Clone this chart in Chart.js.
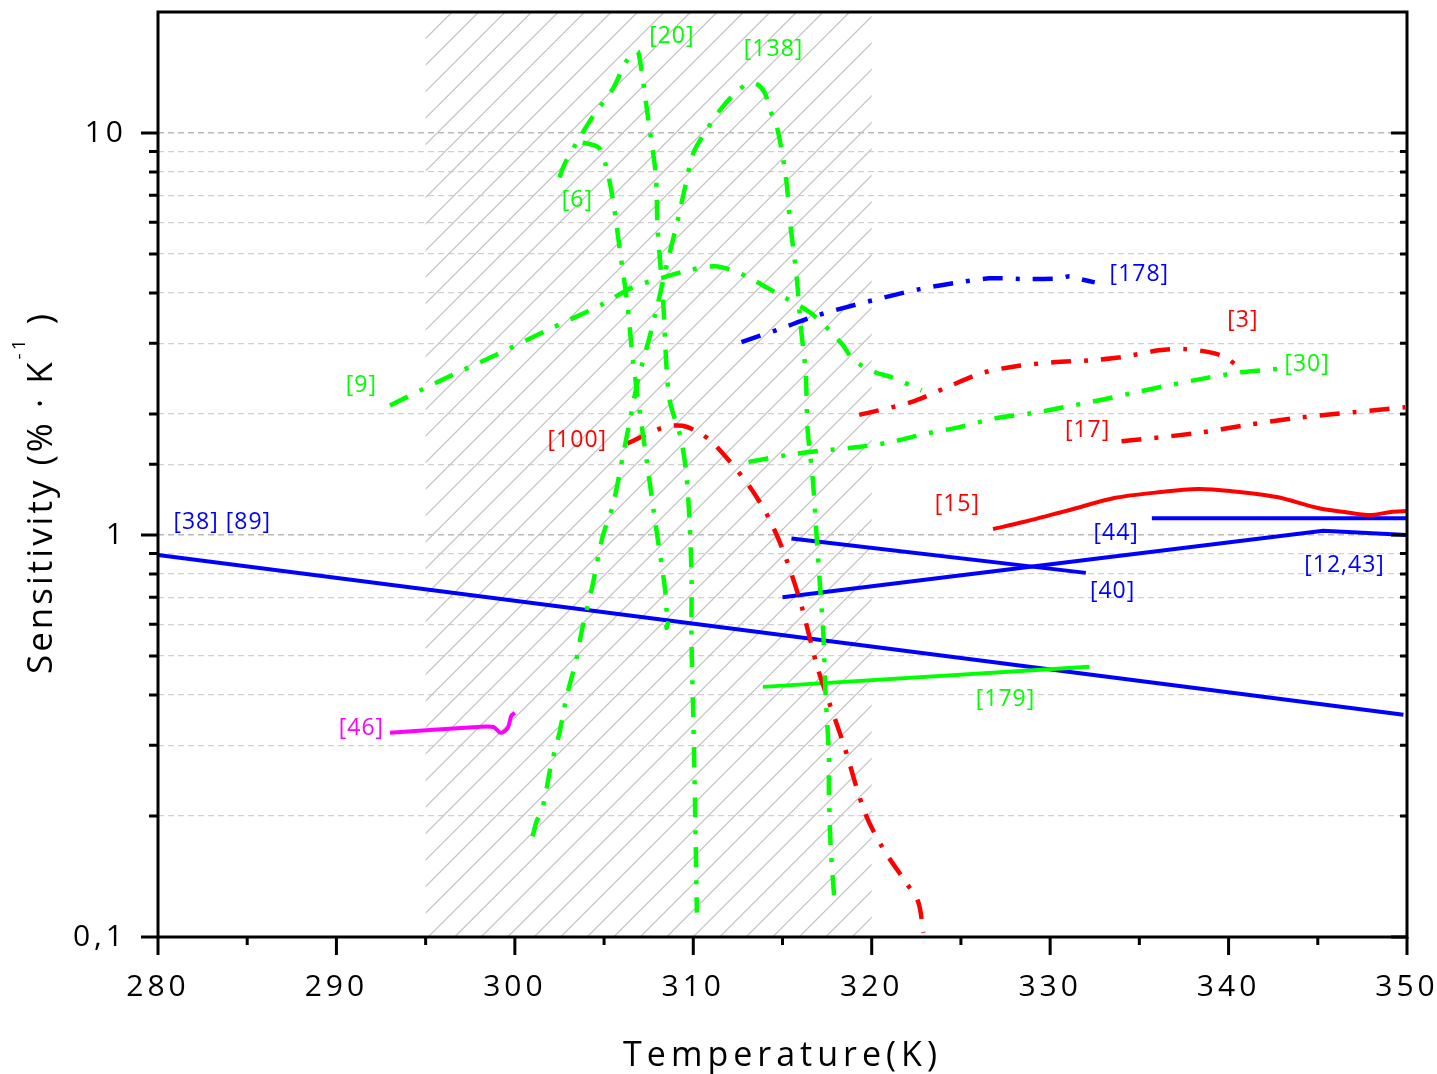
<!DOCTYPE html>
<html>
<head>
<meta charset="utf-8">
<title>Sensitivity vs temperature</title>
<script src="https://cdn.jsdelivr.net/npm/chart.js@4.4.1/dist/chart.umd.min.js"></script>
<style>
  body { margin: 0; background: #fff; }
  #wrap { width: 1437px; height: 1074px; }
</style>
</head>
<body>
<div id="wrap"><canvas id="sensChart"></canvas></div>
<script>
// Data ------------------------------------------------------------------------
const tempRange = [280, 350];
const sensRange = [0.1, 20];
const hatchTemps = [295, 320];

// Solid lines
const temp38 = [280, 349.8];
const sens38 = [0.892, 0.357];

const temp40 = [315.5, 332.0];
const sens40 = [0.98, 0.805];

const temp12 = [315.0, 345.3, 350];
const sens12 = [0.70, 1.025, 1.0];

const temp44 = [335.7, 350];
const sens44 = [1.10, 1.10];

const temp15 = [326.8, 328.5, 331.1, 333.6, 336.2, 338.3, 340.1, 342.7, 345.0, 346.5, 347.9, 349.1, 350];
const sens15 = [1.035, 1.077, 1.154, 1.236, 1.279, 1.301, 1.286, 1.243, 1.167, 1.141, 1.121, 1.141, 1.147];

const temp179 = [313.9, 332.2];
const sens179 = [0.419, 0.470];

const temp46 = [293.0, 297.9, 298.8, 299.2, 299.6, 299.8, 300.0];
const sens46 = [0.322, 0.333, 0.333, 0.322, 0.331, 0.355, 0.361];

// Dash-dot lines
const temp178 = [312.7, 314.8, 316.8, 318.6, 320.7, 322.7, 324.6, 326.6, 328.7, 330.5, 331.1, 331.7, 332.5];
const sens178 = [3.02, 3.25, 3.50, 3.69, 3.90, 4.09, 4.23, 4.35, 4.33, 4.35, 4.40, 4.33, 4.25];

const temp3 = [319.3, 322.2, 324.2, 326.2, 328.1, 330.2, 332.2, 334.0, 336.1, 337.6, 338.9, 339.8, 340.6];
const sens3 = [1.99, 2.14, 2.33, 2.53, 2.63, 2.69, 2.72, 2.77, 2.88, 2.90, 2.85, 2.77, 2.61];

const temp17 = [334.0, 338.1, 341.1, 344.0, 347.0, 349.9];
const sens17 = [1.71, 1.79, 1.88, 1.96, 2.02, 2.08];

const temp100 = [306.3, 308.3, 309.4, 310.4, 311.2, 313.0, 314.1, 315.0, 316.0, 317.0, 318.4, 319.6, 320.6, 321.9, 322.6, 322.9];
const sens100 = [1.69, 1.85, 1.87, 1.79, 1.68, 1.35, 1.13, 0.923, 0.682, 0.462, 0.304, 0.205, 0.167, 0.137, 0.1225, 0.1026];

const temp9 = [293.0, 295.9, 298.9, 301.8, 304.8, 306.6, 308.3, 309.7, 311.2, 312.6, 314.7, 316.6, 318.3, 319.0, 320.2, 321.1, 322.8];
const sens9 = [2.10, 2.43, 2.80, 3.23, 3.73, 4.13, 4.37, 4.55, 4.66, 4.48, 3.99, 3.56, 3.00, 2.72, 2.54, 2.47, 2.29];

const temp30 = [313.1, 315.2, 317.1, 319.0, 321.0, 323.1, 324.8, 326.9, 329.0, 330.8, 332.9, 334.9, 336.7, 338.8, 340.7, 342.8];
const sens30 = [1.52, 1.58, 1.62, 1.65, 1.70, 1.79, 1.85, 1.95, 2.01, 2.08, 2.17, 2.27, 2.36, 2.46, 2.54, 2.59];

const temp6 = [303.8, 304.7, 305.1, 305.5, 305.9, 306.3, 306.6, 307.0, 307.4, 307.8, 308.1, 308.4, 308.5, 308.5, 308.6];
const sens6 = [9.47, 9.20, 8.31, 6.80, 5.05, 3.77, 2.77, 2.02, 1.52, 1.13, 0.918, 0.743, 0.651, 0.588, 0.61];

const temp20 = [302.5, 302.8, 303.5, 304.4, 305.5, 306.2, 306.7, 306.9, 307.1, 307.5, 307.9, 308.0, 308.3, 308.5, 308.7, 309.3, 309.6, 309.8, 309.9, 309.9, 310.0, 310.1, 310.2];
const sens20 = [7.75, 8.40, 9.52, 11.05, 12.9, 14.97, 15.85, 15.94, 14.3, 10.62, 7.84, 5.79, 3.90, 2.61, 2.14, 1.74, 1.43, 1.06, 0.782, 0.548, 0.351, 0.211, 0.115];

const temp138 = [301.0, 301.2, 301.6, 302.0, 302.5, 302.9, 303.4, 303.8, 304.3, 304.9, 305.5, 306.1, 306.5, 306.9, 307.5, 307.9, 308.6, 309.1, 309.5, 310.0, 310.7, 311.5, 312.3, 313.1, 313.6, 314.0,
  314.3, 314.7, 315.2, 315.4, 315.8, 316.0, 316.3, 316.4, 316.7, 316.9, 317.1, 317.3, 317.4, 317.6, 317.6, 317.7, 317.9];
const sens138 = [0.178, 0.193, 0.214, 0.264, 0.322, 0.396, 0.481, 0.591, 0.730, 0.983, 1.19, 1.61, 1.98, 2.43, 3.05, 3.58, 4.88, 5.99, 7.20, 8.90, 10.1, 11.4, 12.5, 13.3, 13.2, 12.6,
  11.4, 10.3, 7.71, 6.13, 4.35, 3.38, 2.53, 1.85, 1.37, 1.01, 0.751, 0.555, 0.412, 0.283, 0.229, 0.168, 0.125];

// Reference labels
const labelTexts = ['[20]', '[138]', '[6]', '[9]', '[178]', '[3]', '[30]', '[17]', '[100]', '[15]', '[44]', '[40]', '[12,43]', '[38] [89]', '[179]', '[46]'];
const labelTemps = [308.8, 314.5, 303.5, 291.4, 335.0, 340.8, 344.4, 332.1, 303.5, 324.8, 333.7, 333.5, 346.5, 283.6, 327.5, 291.4];
const labelSens = [17.4, 16.1, 6.8, 2.36, 4.45, 3.42, 2.66, 1.82, 1.72, 1.19, 1.01, 0.722, 0.842, 1.077, 0.389, 0.331];

// Styles ----------------------------------------------------------------------
const GREEN = '#00ff00';
const RED = '#ff0000';
const BLUE = '#0000ff';
const MAGENTA = '#ff00ff';
const FONT = "'Open Sans', sans-serif";
const labelColors = [GREEN, GREEN, GREEN, GREEN, BLUE, RED, GREEN, RED, RED, RED, BLUE, BLUE, BLUE, BLUE, GREEN, MAGENTA];

// style: 'dashdot' | 'curve' | 'straight'
function series(temps, sens, color, style) {
  const dashDot = style === 'dashdot';
  return {
    data: temps.map((t, i) => ({ x: t, y: sens[i] })),
    borderColor: color,
    borderWidth: dashDot ? 4.5 : 4,
    borderDash: dashDot ? [20, 13, 4, 13] : [],
    borderCapStyle: 'butt',
    pointRadius: 0,
    tension: style === 'straight' ? 0 : 0.3,
    fill: false
  };
}

function isDecade(v) {
  const l = Math.log10(v);
  return Math.abs(l - Math.round(l)) < 1e-6;
}

// no grid lines or ticks between 10 and the top of the axis
function inDrawnRange(v) {
  return v <= 10.0001;
}

// keep the plot box fixed: no extra room for overflowing tick labels
function fixPadding(s) {
  s.paddingLeft = 0;
  s.paddingRight = 0;
  s.paddingTop = 0;
  s.paddingBottom = 0;
}

// Plugins ---------------------------------------------------------------------
// hatched band and letter spacing for tick labels
const hatchBand = {
  id: 'hatchBand',
  beforeDraw(chart) {
    chart.ctx.letterSpacing = '4px';
  },
  beforeDatasetsDraw(chart) {
    const { ctx, chartArea, scales: { x } } = chart;
    ctx.letterSpacing = '0px';
    const x0 = x.getPixelForValue(hatchTemps[0]);
    const x1 = x.getPixelForValue(hatchTemps[1]);
    const h = chartArea.bottom - chartArea.top;
    ctx.save();
    ctx.beginPath();
    ctx.rect(x0, chartArea.top, x1 - x0, h);
    ctx.clip();
    ctx.strokeStyle = '#c4c4c4';
    ctx.lineWidth = 1.2;
    ctx.beginPath();
    for (let s = x0 - h; s < x1 + 26; s += 26.5) {
      ctx.moveTo(s, chartArea.bottom);
      ctx.lineTo(s + h, chartArea.top);
    }
    ctx.stroke();
    ctx.restore();
  }
};

// reference labels next to the curves
const refLabels = {
  id: 'refLabels',
  afterDatasetsDraw(chart) {
    const { ctx, scales: { x, y } } = chart;
    ctx.save();
    ctx.font = '23px ' + FONT;
    ctx.letterSpacing = '1px';
    ctx.textAlign = 'center';
    ctx.textBaseline = 'middle';
    labelTexts.forEach((txt, i) => {
      ctx.fillStyle = labelColors[i];
      ctx.fillText(txt, x.getPixelForValue(labelTemps[i]), y.getPixelForValue(labelSens[i]));
    });
    ctx.restore();
  }
};

// frame, tick marks and axis titles
const frameAndTitles = {
  id: 'frameAndTitles',
  afterDraw(chart) {
    const { ctx, chartArea: a, scales: { x, y } } = chart;
    ctx.save();
    ctx.strokeStyle = '#000';
    ctx.lineWidth = 3;
    ctx.beginPath();
    y.ticks.forEach(t => {
      if (!inDrawnRange(t.value)) return;
      const py = y.getPixelForValue(t.value);
      const big = isDecade(t.value);
      ctx.moveTo(a.left - (big ? 17 : 9), py);
      ctx.lineTo(a.left, py);
      ctx.moveTo(a.right - (big ? 16 : 7), py);
      ctx.lineTo(a.right, py);
    });
    for (let v = x.min; v <= x.max; v += 5) {
      const px = x.getPixelForValue(v);
      ctx.moveTo(px, a.bottom);
      ctx.lineTo(px, a.bottom + (v % 10 === 0 ? 18 : 8));
    }
    ctx.stroke();
    ctx.strokeRect(a.left, a.top, a.right - a.left, a.bottom - a.top);

    ctx.fillStyle = '#000';
    ctx.textBaseline = 'middle';
    ctx.textAlign = 'center';
    ctx.font = '34px ' + FONT;
    ctx.letterSpacing = '5px';
    ctx.fillText('Temperature(K)', (a.left + a.right) / 2, a.bottom + 119);

    // rotated y title with superscript
    const main = 'Sensitivity (% \u00b7 K';
    const sup = '-1';
    const tail = ' )';
    ctx.font = '35px ' + FONT;
    ctx.letterSpacing = '3px';
    const wMain = ctx.measureText(main).width;
    const wTail = ctx.measureText(tail).width;
    ctx.font = '19px ' + FONT;
    const wSup = ctx.measureText(sup).width;
    const total = wMain + wSup + wTail;
    ctx.translate(42, (a.top + a.bottom) / 2 + 18);
    ctx.rotate(-Math.PI / 2);
    ctx.textAlign = 'left';
    let cx = -total / 2;
    ctx.font = '35px ' + FONT;
    ctx.fillText(main, cx, 0);
    cx += wMain;
    ctx.font = '19px ' + FONT;
    ctx.fillText(sup, cx, -22);
    cx += wSup;
    ctx.font = '35px ' + FONT;
    ctx.fillText(tail, cx, 0);
    ctx.restore();
  }
};

// Chart -----------------------------------------------------------------------
const ctx = document.getElementById('sensChart');

new Chart(ctx, {
  type: 'line',
  data: {
    datasets: [
      series(temp9, sens9, GREEN, 'dashdot'),
      series(temp30, sens30, GREEN, 'dashdot'),
      series(temp6, sens6, GREEN, 'dashdot'),
      series(temp20, sens20, GREEN, 'dashdot'),
      series(temp138, sens138, GREEN, 'dashdot'),
      series(temp178, sens178, BLUE, 'dashdot'),
      series(temp3, sens3, RED, 'dashdot'),
      series(temp17, sens17, RED, 'dashdot'),
      series(temp100, sens100, RED, 'dashdot'),
      series(temp15, sens15, RED, 'curve'),
      series(temp46, sens46, MAGENTA, 'curve'),
      series(temp179, sens179, GREEN, 'straight'),
      series(temp44, sens44, BLUE, 'straight'),
      series(temp40, sens40, BLUE, 'straight'),
      series(temp12, sens12, BLUE, 'straight'),
      series(temp38, sens38, BLUE, 'straight')
    ]
  },
  options: {
    responsive: true,
    maintainAspectRatio: false,
    animation: false,
    layout: { padding: { top: 12, right: 30, left: 0, bottom: 0 } },
    plugins: {
      legend: { display: false },
      tooltip: { enabled: false }
    },
    scales: {
      x: {
        type: 'linear',
        min: tempRange[0],
        max: tempRange[1],
        afterFit: s => { s.height = 137; fixPadding(s); },
        grid: { display: false, drawTicks: false },
        border: { display: false },
        ticks: {
          stepSize: 10,
          padding: 32,
          color: '#000',
          font: { family: FONT, size: 30 }
        }
      },
      y: {
        type: 'logarithmic',
        min: sensRange[0],
        max: sensRange[1],
        afterFit: s => { s.width = 158; fixPadding(s); },
        grid: {
          drawTicks: false,
          color: c => !inDrawnRange(c.tick.value) ? 'rgba(0,0,0,0)'
            : isDecade(c.tick.value) ? '#b8b8b8' : '#d0d0d0',
          lineWidth: c => isDecade(c.tick.value) ? 1.6 : 1.2
        },
        border: { display: false, dash: [6, 4] },
        ticks: {
          autoSkip: false,
          padding: 31,
          color: '#000',
          font: { family: FONT, size: 30 },
          callback: v => {
            if (Math.abs(v - 10) < 1e-9) return '10';
            if (Math.abs(v - 1) < 1e-9) return '1';
            if (Math.abs(v - 0.1) < 1e-9) return '0,1';
            return '';
          }
        }
      }
    }
  },
  plugins: [hatchBand, refLabels, frameAndTitles]
});
</script>
</body>
</html>
